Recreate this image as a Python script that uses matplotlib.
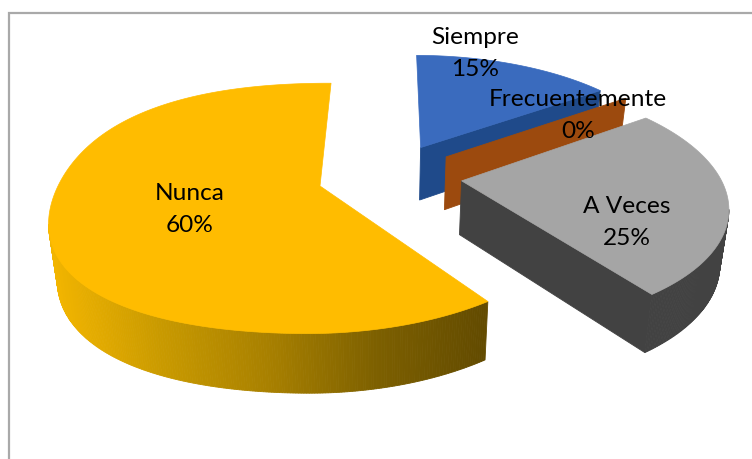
import numpy as np
import matplotlib
matplotlib.use("Agg")
import matplotlib.pyplot as plt
from matplotlib.colors import LinearSegmentedColormap, to_rgb
from matplotlib.patches import Polygon

# Data
categories = ["Siempre", "Frecuentemente", "A Veces", "Nunca"]
percent = [15, 0, 25, 60]

# Styles
top_colors = ["#3A6BBE", "#A04D10", "#A5A5A5", "#FFBC00"]
wall_colors = ["#1F4A8A", "#9C4A0E", "#424242", None]
label_xy = [(475, 38), (578, 100), (627, 207), (190, 194)]
LINE = 32
nunca_wall = LinearSegmentedColormap.from_list(
    "w", ["#F2B500", "#C99A00", "#A88000", "#7D6000", "#634B00"])

# Projection of the pie plane to pixels
VX, VY, B, K = 380.0, -490.0, 677.0, 0.179
R = 262.0
EXPLODE = 0.28
DEPTH = 54.0
ROT = 0.5
BULGE = 0.04
CENTER = np.array([0.951, 0.309]) * EXPLODE


def proj(U, V):
    w = 1 + K * V
    return VX + (-60 + R * U) / w, VY + B / w


def drop(x, y):
    w = B / (y - VY)
    return x - (x - VX) * 0.026, y + DEPTH / np.sqrt(w)


fig = plt.figure(figsize=(7.52, 4.60), dpi=100)
ax = fig.add_axes([0, 0, 1, 1])
ax.set_xlim(0, 752)
ax.set_ylim(460, 0)
ax.axis("off")

ax.plot([9, 9, 760], [470, 14, 14], color="#A9A9A9", lw=1.6, solid_joinstyle="miter")

total = sum(percent)
start = 0.0
for i, (cat, p) in enumerate(zip(categories, percent)):
    span = 360.0 * p / total
    end = start + span
    mid = np.radians(start + span / 2)
    apex = CENTER + EXPLODE * np.array([np.sin(mid), np.cos(mid)])
    deg = np.linspace(start, end, max(2, int(span * 2) + 2))
    th = np.radians(deg + ROT)
    rho = 1 + BULGE * np.where(np.sin(np.radians(deg)) < 0, np.sin(2 * np.radians(deg)) ** 2, 0)
    U = np.r_[apex[0], apex[0] + rho * np.sin(th)]
    V = np.r_[apex[1], apex[1] + rho * np.cos(th)]
    x, y = proj(U, V)
    if p == 0:
        x, y = x[:2], y[:2]
    xb, yb = drop(x, y)
    n = len(x)
    for j in range(n):
        k = (j + 1) % n
        dx, dy = x[k] - x[j], y[k] - y[j]
        if dx >= 0:
            continue
        if (j == 0 or k == 0) and abs(dx) < 0.15 * abs(dy):
            continue
        if wall_colors[i] is None:
            t = np.clip((0.5 * (x[j] + x[k]) - 50) / 435, 0, 1)
            c = nunca_wall(t)
        else:
            c = to_rgb(wall_colors[i])
        ax.add_patch(Polygon([(x[j], y[j]), (x[k], y[k]), (xb[k], yb[k]), (xb[j], yb[j])],
                             closed=True, fc=c, ec=c, lw=0.6, zorder=2 + i))
    if p > 0:
        ax.add_patch(Polygon(np.c_[x, y], closed=True, fc=top_colors[i], ec=top_colors[i],
                             lw=0.5, zorder=2 + i))
    start = end

for cat, p, (lx, ly) in zip(categories, percent, label_xy):
    ax.text(lx, ly, cat, ha="center", va="center", family="Lato", fontsize=17.6,
            color="black", zorder=20)
    ax.text(lx, ly + LINE, f"{p}%", ha="center", va="center", family="Lato", fontsize=17.6,
            color="black", zorder=20)

fig.savefig("out.png", dpi=100)
